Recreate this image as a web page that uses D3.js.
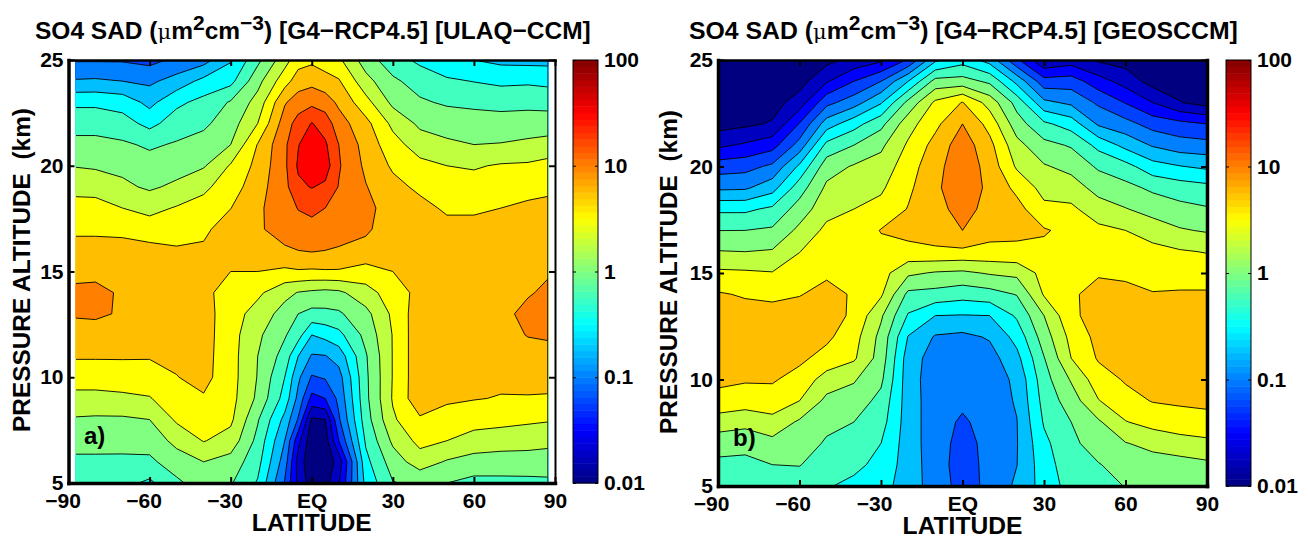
<!DOCTYPE html>
<html>
<head>
<meta charset="utf-8">
<script src="https://cdn.jsdelivr.net/npm/d3@7"></script>
<style>
body { margin: 0; background: #fff; }
text { font-family: "Liberation Sans", Arial, sans-serif; font-weight: bold; fill: #000; }
.tick text { font-size: 21px; }
</style>
</head>
<body>
<div class="vis-holder"></div>
<script>
const width = 1308;
const height = 536;

const altitudes = [5,6,7,8,9,10,11,12,13,14,15,16,17,18,19,20,21,22,23,24,25];
const latTicks = [-90,-60,-30,0,30,60,90];
const latLabels = ["\u221290","\u221260","\u221230","EQ","30","60","90"];
const altTicks = [5,10,15,20,25];
const barTicks = [0.01,0.1,1,10,100];
const barLabels = ["0.01","0.1","1","10","100"];
// contour levels, quarter decades from 0.01 to 100
const levels = d3.range(0, 17);

// values below are in level units: 0 = 0.01, 4 = 0.1, 8 = 1, 12 = 10, one column per latitude, 5 km up to 25 km
const latA = [-87.5,-80,-70,-60,-50,-40,-30,-20,-10,-5,0,5,10,20,30,40,50,60,70,80,87.5];
const sadA = [
    [7.4,7.8,8.35,8.9,9.7,10.45,11.1,11.6,12.1,12.15,11.8,11.3,10.85,10.35,9.7,8.95,8.3,7.6,6.8,5.1,3.9],
    [7.4,7.8,8.35,8.85,9.7,10.45,11.1,11.6,12.15,12.2,11.8,11.3,10.85,10.3,9.7,8.85,8.3,7.6,6.8,5.15,3.9],
    [7.3,7.7,8.5,8.85,9.8,10.5,11.1,11.6,11.9,11.9,11.7,11.3,10.8,10,9.2,8.75,8.15,7.4,6.6,5,3.9],
    [6.8,7.8,8.4,9,9.95,10.45,11.1,11.5,11.7,11.8,11.65,11.3,10.5,9.7,8.85,8.4,7.85,6.7,5.7,4.8,3.7],
    [7.8,8.5,9.3,10.15,10.5,10.97,11.2,11.4,11.45,11.4,11.3,11.1,10.6,10.08,9.2,8.6,8.1,7.5,6.78,5.4,4.2],
    [8.5,9,10.05,10.45,10.9,11.3,11.35,11.4,11.4,11.3,11.25,11.15,10.8,10.35,9.8,8.9,8.4,7.8,7.3,6.3,4.6],
    [8.1,8.6,9.6,10.2,10.35,10.4,10.4,10.4,10.45,10.5,11,11.4,11.5,10.98,10.5,10.1,9,8.55,8.1,6.7,5.9],
    [6.9,7.35,7.7,8.1,8.8,8.95,9,9.2,9.6,10.2,11,11.4,11.9,11.85,11.6,11.3,11.05,10,9.38,8.67,7.75],
    [3.9,4.5,5,5.7,6.6,7,7.6,8.1,8.6,9.3,10.8,11.9,12.3,12.5,12.7,12.8,12.8,12.5,11.9,10.6,9.6],
    [1.7,1.6,2.3,3.9,4.7,5.2,6,7.4,8,8.95,10.9,12,12.55,13.05,13.8,14.15,13.95,13.4,12.5,11.5,10.6],
    [0.5,0.2,0.3,0.85,2.7,3.9,4.9,6,7.7,8.8,10.85,12.1,12.6,13.3,14.05,14.85,14.65,14.05,12.75,11.7,10.8],
    [0.6,0.3,0.5,1,3,4.1,4.95,6.3,7.75,8.7,10.9,12,12.5,13,13.8,14.5,14.15,13.55,12.5,11.4,10.5],
    [1.9,1.4,3,3.85,4.25,4.6,5.4,6.7,7.85,8.8,10.9,11.9,12.45,12.7,12.95,13.1,13,12.45,11.8,11.1,10.2],
    [6.3,6.7,7.15,7.55,7.75,7.8,7.9,8.3,8.7,9.6,10.6,11.7,12.15,12.3,12.05,11.8,11.6,11.3,10.35,9.35,8.5],
    [7.95,8.5,9.2,9.85,10.1,10.05,10.05,10.05,10.2,10.5,11,11.3,11.5,11.5,11.3,10.85,10.4,9.75,8.75,8.2,7.4],
    [8.2,9.5,10.3,10.85,11.7,11.7,11.7,11.7,11.6,11.3,11.4,11.45,11.45,11.3,10.8,10.3,9.5,8.8,8.15,7.55,6.8],
    [8,8.9,10,10.75,11.1,11.25,11.3,11.3,11.35,11.4,11.4,11.4,11.3,10.85,10.45,10,9.15,8.65,7.85,7.15,6.3],
    [7.7,8.6,9.6,10.4,11.05,11.2,11.3,11.4,11.5,11.5,11.5,11.45,11.3,10.85,10.4,9.9,9,8.5,7.75,6.97,6],
    [7.7,8.6,9.4,10.35,10.95,11.2,11.4,11.6,11.7,11.7,11.6,11.5,11.3,11,10.5,10.1,9.05,8.45,7.65,6.8,5.75],
    [7.7,8.65,9.3,10.2,10.95,11.25,11.55,12.05,12.3,11.9,11.75,11.6,11.45,11.2,10.65,10.15,9.2,8.5,7.7,6.85,5.7],
    [7.75,8.65,9.2,10.1,10.9,11.35,11.73,12.1,12.5,12.2,11.9,11.7,11.45,11.25,10.8,10.35,9.35,8.5,7.65,6.75,5.7]
];

const latB = [-90,-80,-70,-60,-50,-40,-30,-20,-10,0,10,20,30,40,50,60,70,80,90];
const sadB = [
    [7.25,7.75,8.45,9.5,10.7,11.2,11.4,11.5,11.4,11.1,10.2,9.05,7.99,6.8,4.8,3.52,1.8,0.6,0.4,0.3,0.2],
    [7.2,7.7,8.35,9.3,10.5,11.1,11.35,11.5,11.4,10.9,10.15,9,8,6.8,4.85,3.65,2.15,0.8,0.5,0.3,0.2],
    [7.2,8,8.7,9.65,10.6,11.1,11.35,11.5,11.35,10.8,10.05,9.1,8.15,7.2,5.6,4.2,2.6,1.1,0.6,0.4,0.2],
    [7.35,8.05,8.6,8.85,10,10.65,11.2,11.4,11.45,10.95,10.45,9.98,9.25,8.45,7.53,6.2,4.4,3.07,1.47,0.6,0.3],
    [7.1,7.4,7.85,8.3,8.75,9.55,10.65,11.2,11.5,11.3,10.85,10.6,10.25,9.65,9.2,8.55,7.3,5.5,3.7,1.9,0.7],
    [6.7,7.3,7.55,8,8.55,9.1,10.15,10.4,10.8,10.9,10.7,10.5,10.3,10,9.5,9.1,8,6.6,4.55,3,1.3],
    [6.35,6.65,7,7.4,7.7,8.2,8.55,8.7,9.15,10.15,10.4,10.7,11.05,10.3,9.85,9.4,8.8,7.7,5.9,4,1.8],
    [5.55,5.55,5.5,5.5,5.5,5.45,5.5,5.95,6.9,7.75,9.2,10.7,11.3,11.05,10.8,10.55,10.15,9.6,8.3,6,3.1],
    [4.5,4.45,4.45,4.45,4.45,4.45,4.55,4.9,6,7.65,8.9,10.85,11.4,11.55,11.8,11.65,11.35,10.75,10.2,8.35,5.8],
    [3.65,3.55,3.65,3.85,4.2,4.35,4.5,4.75,5.95,7.4,8.8,10.8,12,12.5,12.7,12.7,12.55,12,11.05,8.4,6.6],
    [4.2,4.3,4.3,4.4,4.45,4.5,4.6,5.1,6,7.6,9.1,10.75,11.3,11.55,11.75,11.6,11.3,10.65,9.6,7.8,5.6],
    [5.2,4.98,4.95,4.97,5.1,5.2,5.7,6.35,7.15,8.05,9.25,10.8,11.2,11.35,10.75,9.86,9.33,8.45,7.64,5.7,3.2],
    [6.4,6.55,6.75,7.1,7.35,7.6,7.95,8.5,9,10.1,10.35,10.75,11.1,10.25,9.65,9.1,8.3,7.2,5.25,3.4,1.1],
    [7.4,7.6,7.8,8,8.5,9.1,10,10.3,10.8,10.85,10.8,10.85,10.7,10.2,9.47,8.7,7.9,6.55,4.8,3.5,1.5],
    [7.5,7.95,8.4,8.85,9.95,10.55,11.1,11.3,11.4,11.35,10.9,10.55,10.25,9.45,8.65,7.85,6.7,4.85,3.83,2.43,0.85],
    [8.05,8.35,8.95,9.95,10.65,11.1,11.3,11.45,11.5,11.3,10.8,10.4,10,9.05,8.3,7.35,5.7,4.35,2.95,1.6,0.6],
    [8.1,8.55,9.3,10.35,11.05,11.25,11.4,11.5,11.4,11.05,10.65,10.35,9.5,8.65,7.8,6.4,4.9,3.6,2,0.6,0.2],
    [8.15,8.6,9.6,10.55,11.15,11.35,11.5,11.55,11.45,11.1,10.6,10.1,9.1,8.3,7.5,6.05,4.45,3.3,1.05,0.5,0.2],
    [8.25,8.8,9.75,10.7,11.2,11.4,11.55,11.6,11.5,11.1,10.6,9.95,8.9,8.1,7.3,5.8,4.35,3,0.6,0.3,0.2]
];

const svg = d3.select(".vis-holder").append("svg")
    .attr("width", width)
    .attr("height", height)
    .style("display", "block");

const jet = d3.scaleLinear()
    .domain([0, 0.125, 0.375, 0.625, 0.875, 1])
    .range(["#000080", "#0000ff", "#00ffff", "#ffff00", "#ff0000", "#800000"]);

function drawPanel(p) {
    const x = d3.scaleLinear().domain([-90, 90]).range([p.left, p.right]);
    const y = d3.scaleLinear().domain([5, 25]).range([p.bottom, p.top]);
    const g = svg.append("g");

    // grid index to lat/alt, d3.contours puts each value at index + 0.5
    const lats = p.lats;
    const colLat = d3.scaleLinear().domain(lats.map((d, i) => i + 0.5)).range(lats).clamp(true);
    const rowAlt = d3.scaleLinear().domain(altitudes.map((d, i) => i + 0.5)).range(altitudes).clamp(true);
    const path = d3.geoPath(d3.geoTransform({
        point: function(px, py) {
            this.stream.point(x(colLat(px)), y(rowAlt(py)));
        }
    }));

    const flat = [];
    altitudes.forEach((a, j) => lats.forEach((l, i) => flat.push(p.values[i][j])));
    const contours = d3.contours()
        .size([lats.length, altitudes.length])
        .thresholds(levels)(flat);

    const x0 = x(lats[0]);
    const x1 = x(lats[lats.length - 1]);
    svg.append("clipPath").attr("id", p.id + "-lines").append("rect")
        .attr("x", x0 + 0.8).attr("y", p.top)
        .attr("width", x1 - x0 - 1.6).attr("height", p.bottom - p.top);

    g.append("g").selectAll("path")
        .data(contours)
        .enter().append("path")
        .attr("d", path)
        .attr("fill", d => jet(d.value / 16));

    g.append("g").attr("clip-path", "url(#" + p.id + "-lines)")
        .selectAll("path")
        .data(contours.filter(d => d.value > 0))
        .enter().append("path")
        .attr("d", path)
        .attr("fill", "none")
        .attr("stroke", "#000")
        .attr("stroke-width", 0.9);

    // frame with inward ticks
    const fmt = d => latLabels[latTicks.indexOf(d)];
    const bottomAxis = g.append("g").attr("transform", "translate(0," + p.bottom + ")")
        .call(d3.axisBottom(x).tickValues(latTicks).tickFormat(fmt).tickSizeInner(-6).tickSizeOuter(0).tickPadding(10));
    const topAxis = g.append("g").attr("transform", "translate(0," + p.top + ")")
        .call(d3.axisTop(x).tickValues(latTicks).tickFormat("").tickSizeInner(-6).tickSizeOuter(0));
    const leftAxis = g.append("g").attr("transform", "translate(" + p.left + ",0)")
        .call(d3.axisLeft(y).tickValues(altTicks).tickFormat(d3.format("d")).tickSizeInner(-6).tickSizeOuter(0).tickPadding(5));
    const rightAxis = g.append("g").attr("transform", "translate(" + p.right + ",0)")
        .call(d3.axisRight(y).tickValues(altTicks).tickFormat("").tickSizeInner(-6).tickSizeOuter(0));
    [bottomAxis, topAxis, leftAxis, rightAxis].forEach(a => {
        a.select(".domain").attr("stroke-width", 3.5).attr("stroke-linecap", "square");
        a.selectAll("line").attr("stroke-width", 2);
    });
    topAxis.select(".domain").attr("stroke-width", 2.5);
    rightAxis.select(".domain").attr("stroke-width", p.rightWidth);
    // the minus sign pushes negative labels to the left in the original
    bottomAxis.selectAll("text").attr("dy", "0.71em").attr("dx", d => d < 0 ? p.negShift : 0);

    // colour bar
    const bar = d3.scaleLog().domain([0.01, 100]).range([p.bottom, p.top]);
    const steps = d3.range(64);
    const stepY = d3.scaleBand().domain(steps).range([p.bottom, p.top]);
    g.append("g").selectAll("rect")
        .data(steps)
        .enter().append("rect")
        .attr("x", p.barLeft)
        .attr("y", d => stepY(d))
        .attr("width", 25)
        .attr("height", stepY.bandwidth() + 0.5)
        .attr("fill", d => jet((d + 0.5) / 64));
    g.append("rect")
        .attr("x", p.barLeft).attr("y", p.top)
        .attr("width", 25).attr("height", p.bottom - p.top)
        .attr("fill", "none").attr("stroke", "#000").attr("stroke-width", 1);
    g.append("g").attr("transform", "translate(" + (p.barLeft + 25) + ",0)")
        .call(d3.axisRight(bar).tickValues(barTicks)
            .tickFormat(d => barLabels[barTicks.indexOf(d)])
            .tickSizeInner(-3).tickSizeOuter(0).tickPadding(6))
        .call(a => a.select(".domain").remove());
    g.append("g").attr("transform", "translate(" + p.barLeft + ",0)")
        .call(d3.axisLeft(bar).tickValues(barTicks).tickFormat("").tickSizeInner(-3).tickSizeOuter(0))
        .call(a => a.select(".domain").remove());

    // title, mu is set in a lighter serif as in the original
    const title = g.append("text")
        .attr("x", p.titleX).attr("y", 38.5)
        .style("font-size", p.titleSize + "px");
    title.append("tspan").text("SO4 SAD (");
    title.append("tspan").text("\u03bc").style("font-family", "'DejaVu Serif'").style("font-weight", "normal").style("font-size", "21px");
    title.append("tspan").text("m");
    title.append("tspan").text("2").attr("dy", -9).style("font-size", "21px");
    title.append("tspan").text("cm").attr("dy", 9);
    title.append("tspan").text("\u22123").attr("dy", -9).style("font-size", "21px");
    title.append("tspan").text(") [G4\u2212RCP4.5] [" + p.model + "]").attr("dy", 9);

    g.append("text")
        .attr("x", (p.left + p.right) / 2).attr("y", p.bottom + 48)
        .attr("text-anchor", "middle")
        .style("font-size", "24.6px")
        .text("LATITUDE");
    g.append("text")
        .attr("transform", "translate(" + p.yLabelX + "," + p.yLabelY + ") rotate(-90)")
        .attr("text-anchor", "middle")
        .style("font-size", "24.4px")
        .attr("xml:space", "preserve")
        .text("PRESSURE ALTITUDE  (km)");
    g.append("text")
        .attr("x", p.tagX).attr("y", p.tagY)
        .style("font-size", "24px")
        .text(p.tag);
}

drawPanel({
    id: "a", lats: latA, values: sadA, model: "ULAQ\u2212CCM", tag: "a)", negShift: -6, titleSize: 24.5,
    left: 68.5, right: 555, top: 60, bottom: 483, rightWidth: 2,
    barLeft: 573, titleX: 35, yLabelX: 30, yLabelY: 270, tagX: 84, tagY: 444
});
drawPanel({
    id: "b", lats: latB, values: sadB, model: "GEOSCCM", tag: "b)", negShift: -7, titleSize: 24.8,
    left: 718, right: 1207, top: 60, bottom: 486, rightWidth: 3.5,
    barLeft: 1226, titleX: 689, yLabelX: 677, yLabelY: 272, tagX: 733, tagY: 446
});
</script>
</body>
</html>
